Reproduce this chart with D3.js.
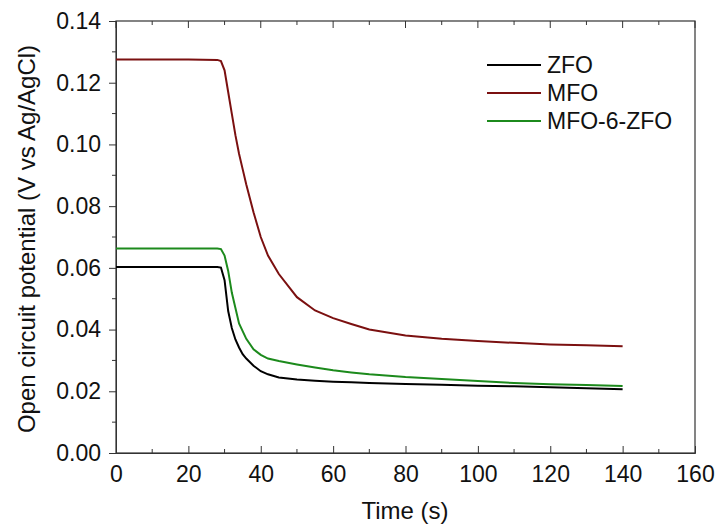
<!DOCTYPE html>
<html>
<head>
<meta charset="utf-8">
<script src="https://cdn.jsdelivr.net/npm/d3@7"></script>
<style>
  body { margin: 0; background: #fff; }
  text { font-family: "Liberation Sans", Arial, sans-serif; fill: #111; }
</style>
</head>
<body>
<svg id="chart" width="716" height="530"></svg>
<script>
// time axis shared by all three OCP traces (s)
var times = [0, 10, 20, 28, 29, 30, 31, 32, 33, 34, 35, 36, 38, 40, 42, 45, 50, 55, 60, 65, 70, 80, 90, 100, 110, 120, 130, 140];

var zfo = [0.0603, 0.0603, 0.0603, 0.0603, 0.0601, 0.056, 0.046, 0.0405, 0.0368, 0.0342, 0.0320, 0.0306, 0.0283, 0.0265, 0.0255, 0.0245, 0.0238, 0.0234, 0.0231, 0.0229, 0.0227, 0.0224, 0.0221, 0.0218, 0.0216, 0.0213, 0.0210, 0.0207];
var mfo = [0.1275, 0.1275, 0.1275, 0.1274, 0.1270, 0.124, 0.117, 0.110, 0.103, 0.097, 0.092, 0.087, 0.078, 0.070, 0.064, 0.058, 0.0505, 0.0462, 0.0437, 0.0418, 0.0400, 0.0381, 0.0370, 0.0363, 0.0357, 0.0352, 0.0349, 0.0346];
var mfoZfo = [0.0663, 0.0663, 0.0663, 0.0663, 0.0661, 0.064, 0.059, 0.052, 0.047, 0.042, 0.0395, 0.0370, 0.0336, 0.0318, 0.0306, 0.0298, 0.0287, 0.0277, 0.0268, 0.0261, 0.0255, 0.0246, 0.0240, 0.0233, 0.0227, 0.0223, 0.0220, 0.0217];

var seriesNames = ['ZFO', 'MFO', 'MFO-6-ZFO'];
var seriesColors = ['#000000', '#7b1010', '#1c8a1c'];
var seriesValues = [zfo, mfo, mfoZfo];

var xTicks = [0, 20, 40, 60, 80, 100, 120, 140, 160];
var yTicks = [0, 0.02, 0.04, 0.06, 0.08, 0.10, 0.12, 0.14];

var svg = d3.select('#chart');
var m = { left: 116, right: 695, top: 21, bottom: 453 };

var x = d3.scaleLinear().domain([0, 160]).range([m.left, m.right]);
var y = d3.scaleLinear().domain([0, 0.14]).range([m.bottom, m.top]);

// frame
svg.append('rect')
    .attr('x', m.left).attr('y', m.top)
    .attr('width', m.right - m.left).attr('height', m.bottom - m.top)
    .attr('fill', 'none').attr('stroke', '#333').attr('stroke-width', 1.2);

// minor ticks
var xMinor = d3.range(10, 160, 20);
var yMinor = d3.range(0.01, 0.14, 0.02);

// bottom axis, ticks pointing inwards
var xAxis = svg.append('g').attr('transform', 'translate(0,' + m.bottom + ')')
    .call(d3.axisBottom(x).tickValues(xTicks).tickSize(-7).tickPadding(13).tickFormat(d3.format('d')));
xAxis.append('g').selectAll('line').data(xMinor).enter().append('line')
    .attr('x1', x).attr('x2', x).attr('y1', 0).attr('y2', -4).attr('stroke', '#333');

// top ticks inwards
var topG = svg.append('g');
topG.selectAll('line.maj').data(xTicks).enter().append('line')
    .attr('x1', x).attr('x2', x).attr('y1', m.top).attr('y2', m.top + 7).attr('stroke', '#333');
topG.selectAll('line.min').data(xMinor).enter().append('line')
    .attr('x1', x).attr('x2', x).attr('y1', m.top).attr('y2', m.top + 4).attr('stroke', '#333');

// left axis, ticks outward
var yAxis = svg.append('g').attr('transform', 'translate(' + m.left + ',0)')
    .call(d3.axisLeft(y).tickValues(yTicks).tickSize(7).tickPadding(8).tickFormat(d3.format('.2f')));
yAxis.append('g').selectAll('line').data(yMinor).enter().append('line')
    .attr('y1', y).attr('y2', y).attr('x1', 0).attr('x2', -4).attr('stroke', '#333');

svg.selectAll('.domain').attr('stroke', '#333');
svg.selectAll('.tick line').attr('stroke', '#333');
svg.selectAll('.tick text').attr('font-size', 23).style('font-family', '"Liberation Sans", Arial, sans-serif').attr('fill', '#111');

// axis titles
svg.append('text')
    .attr('x', 405).attr('y', 519)
    .attr('text-anchor', 'middle').attr('font-size', 24)
    .text('Time (s)');
svg.append('text')
    .attr('transform', 'translate(35,239) rotate(-90)')
    .attr('text-anchor', 'middle').attr('font-size', 24)
    .text('Open circuit potential (V vs Ag/AgCl)');

// curves
var line = d3.line()
    .x(function(d) { return x(d[0]); })
    .y(function(d) { return y(d[1]); });

seriesValues.forEach(function(vals, i) {
    var pts = times.map(function(t, j) { return [t, vals[j]]; });
    svg.append('path')
        .datum(pts)
        .attr('d', line)
        .attr('fill', 'none')
        .attr('stroke', seriesColors[i])
        .attr('stroke-width', 2);
});

// legend
var legend = svg.append('g');
seriesNames.forEach(function(name, i) {
    var ly = 65 + i * 28;
    legend.append('line')
        .attr('x1', 487).attr('x2', 541).attr('y1', ly).attr('y2', ly)
        .attr('stroke', seriesColors[i]).attr('stroke-width', 2);
    legend.append('text')
        .attr('x', 547).attr('y', ly).attr('dy', '0.36em')
        .attr('font-size', 23)
        .text(name);
});
</script>
</body>
</html>
